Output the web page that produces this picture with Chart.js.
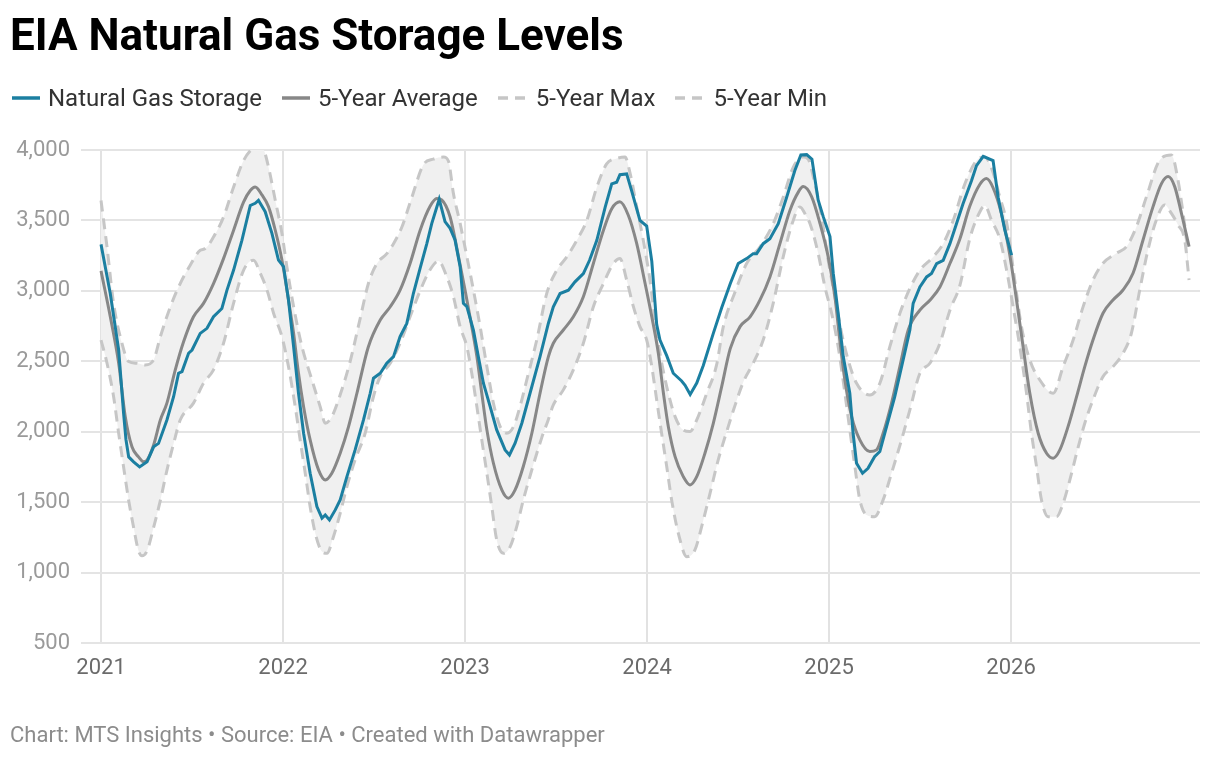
<!DOCTYPE html>
<html>
<head>
<meta charset="utf-8">
<script src="https://cdn.jsdelivr.net/npm/chart.js@4.4.1/dist/chart.umd.min.js"></script>
<style>
  html, body { margin: 0; padding: 0; background: #fff; }
  body { width: 1220px; height: 760px; position: relative; overflow: hidden; font-family: Roboto, sans-serif; }
  #title { position: absolute; left: 10px; top: 9px; font-size: 44px; font-weight: bold; color: #000; white-space: nowrap; }
  #legend { position: absolute; left: 12px; top: 84px; display: flex; align-items: center; font-size: 24px; color: #333; white-space: nowrap; }
  .item { display: flex; align-items: center; margin-right: 20px; }
  .item svg { margin-right: 8px; }
  #footer { position: absolute; left: 10px; top: 722px; font-size: 22px; color: #8c8c8c; white-space: nowrap; }
  #wrap { position: absolute; left: 0; top: 0; width: 1220px; height: 760px; }
</style>
</head>
<body>
<div id="wrap"><canvas id="chart"></canvas></div>
<div id="title">EIA Natural Gas Storage Levels</div>
<div id="legend"></div>
<div id="footer">Chart: MTS Insights • Source: EIA • Created with Datawrapper</div>
<script>
// weekly readings, [decimal year, Bcf]
const storage = [
  [2021.000, 3330], [2021.051, 2980], [2021.097, 2580], [2021.124, 2130], [2021.137, 1945], [2021.152, 1821],
  [2021.179, 1786], [2021.212, 1750], [2021.253, 1786], [2021.289, 1893], [2021.316, 1917], [2021.362, 2083],
  [2021.399, 2250], [2021.426, 2415], [2021.445, 2427], [2021.481, 2557], [2021.500, 2580], [2021.545, 2698],
  [2021.582, 2734], [2021.618, 2816], [2021.664, 2875], [2021.692, 3005], [2021.728, 3146], [2021.774, 3359],
  [2021.820, 3606], [2021.847, 3622], [2021.865, 3643], [2021.902, 3562], [2021.939, 3408], [2021.975, 3219],
  [2022.003, 3172], [2022.030, 2935], [2022.058, 2604], [2022.085, 2273], [2022.113, 1989], [2022.149, 1705],
  [2022.186, 1468], [2022.214, 1386], [2022.232, 1409], [2022.255, 1374], [2022.287, 1445], [2022.314, 1516],
  [2022.351, 1681], [2022.396, 1871], [2022.442, 2084], [2022.479, 2273], [2022.497, 2380], [2022.534, 2415],
  [2022.570, 2486], [2022.607, 2533], [2022.643, 2675], [2022.680, 2769], [2022.716, 2981], [2022.753, 3160],
  [2022.790, 3336], [2022.817, 3477], [2022.858, 3650], [2022.890, 3491], [2022.918, 3444], [2022.945, 3361],
  [2022.973, 3172], [2022.991, 2912], [2023.010, 2888], [2023.046, 2722], [2023.073, 2533], [2023.101, 2344],
  [2023.138, 2178], [2023.174, 2013], [2023.220, 1871], [2023.244, 1835], [2023.275, 1918], [2023.312, 2060],
  [2023.357, 2273], [2023.412, 2533], [2023.458, 2770], [2023.485, 2887], [2023.522, 2981], [2023.568, 3005],
  [2023.604, 3064], [2023.650, 3123], [2023.684, 3217], [2023.724, 3359], [2023.770, 3594], [2023.806, 3759],
  [2023.833, 3771], [2023.851, 3825], [2023.888, 3830], [2023.915, 3712], [2023.961, 3500], [2023.998, 3460],
  [2024.026, 3210], [2024.053, 2760], [2024.071, 2651], [2024.108, 2540], [2024.144, 2415], [2024.190, 2360],
  [2024.209, 2330], [2024.237, 2265], [2024.273, 2345], [2024.309, 2470], [2024.364, 2698], [2024.410, 2880],
  [2024.457, 3050], [2024.501, 3194], [2024.547, 3229], [2024.583, 3264], [2024.602, 3264], [2024.638, 3335],
  [2024.675, 3370], [2024.721, 3477], [2024.767, 3665], [2024.812, 3854], [2024.845, 3965], [2024.877, 3967],
  [2024.906, 3935], [2024.940, 3645], [2024.968, 3527], [2025.005, 3385], [2025.023, 3125], [2025.050, 2841],
  [2025.078, 2533], [2025.114, 2273], [2025.132, 1989], [2025.151, 1776], [2025.184, 1705], [2025.214, 1740],
  [2025.250, 1823], [2025.279, 1859], [2025.316, 2036], [2025.361, 2249], [2025.407, 2509], [2025.444, 2722],
  [2025.462, 2911], [2025.499, 3028], [2025.536, 3099], [2025.563, 3123], [2025.591, 3194], [2025.627, 3217],
  [2025.664, 3335], [2025.700, 3477], [2025.736, 3618], [2025.783, 3783], [2025.810, 3889], [2025.847, 3955],
  [2025.901, 3925], [2025.929, 3665], [2025.966, 3429], [2026.003, 3253]
];

const fiveYearAvg = [
  [2021.000, 3142], [2021.051, 2816], [2021.097, 2486], [2021.133, 2109], [2021.170, 1893], [2021.206, 1821],
  [2021.234, 1786], [2021.253, 1798], [2021.289, 1905], [2021.326, 2083], [2021.362, 2203], [2021.408, 2439],
  [2021.454, 2640], [2021.508, 2816], [2021.563, 2911], [2021.618, 3052], [2021.673, 3229], [2021.728, 3429],
  [2021.783, 3630], [2021.820, 3712], [2021.847, 3738], [2021.884, 3681], [2021.920, 3598], [2021.957, 3432],
  [2021.994, 3219], [2022.030, 2935], [2022.058, 2699], [2022.085, 2415], [2022.113, 2178], [2022.149, 1942],
  [2022.195, 1729], [2022.232, 1658], [2022.268, 1705], [2022.314, 1847], [2022.360, 2036], [2022.406, 2273],
  [2022.468, 2600], [2022.534, 2793], [2022.589, 2887], [2022.643, 3005], [2022.698, 3194], [2022.753, 3429],
  [2022.808, 3600], [2022.845, 3655], [2022.872, 3645], [2022.918, 3524], [2022.964, 3243], [2023.000, 3006],
  [2023.037, 2746], [2023.065, 2533], [2023.092, 2273], [2023.120, 2013], [2023.156, 1776], [2023.202, 1587],
  [2023.238, 1528], [2023.275, 1587], [2023.320, 1753], [2023.367, 1989], [2023.412, 2273], [2023.458, 2533],
  [2023.485, 2628], [2023.540, 2722], [2023.595, 2816], [2023.650, 2958], [2023.705, 3194], [2023.760, 3429],
  [2023.806, 3583], [2023.851, 3632], [2023.897, 3537], [2023.943, 3337], [2023.989, 3054], [2024.026, 2817],
  [2024.062, 2557], [2024.090, 2273], [2024.117, 2036], [2024.154, 1823], [2024.199, 1681], [2024.236, 1622],
  [2024.273, 1681], [2024.318, 1847], [2024.364, 2060], [2024.410, 2320], [2024.457, 2590], [2024.511, 2746],
  [2024.566, 2816], [2024.620, 2934], [2024.675, 3099], [2024.730, 3335], [2024.785, 3571], [2024.831, 3701],
  [2024.858, 3740], [2024.904, 3669], [2024.950, 3479], [2024.995, 3243], [2025.032, 2959], [2025.059, 2651],
  [2025.087, 2367], [2025.124, 2107], [2025.169, 1942], [2025.224, 1859], [2025.261, 1871], [2025.297, 1989],
  [2025.343, 2202], [2025.389, 2462], [2025.435, 2722], [2025.499, 2863], [2025.554, 2934], [2025.609, 3028],
  [2025.664, 3194], [2025.719, 3370], [2025.773, 3600], [2025.828, 3755], [2025.865, 3797], [2025.901, 3732],
  [2025.947, 3548], [2025.993, 3255], [2026.030, 2935], [2026.066, 2604], [2026.103, 2273], [2026.149, 1989],
  [2026.195, 1847], [2026.231, 1812], [2026.268, 1871], [2026.313, 2036], [2026.360, 2249], [2026.405, 2462],
  [2026.450, 2651], [2026.505, 2841], [2026.560, 2935], [2026.615, 3006], [2026.670, 3125], [2026.725, 3361],
  [2026.780, 3598], [2026.827, 3763], [2026.863, 3811], [2026.899, 3740], [2026.936, 3550], [2026.978, 3314]
];

const fiveYearMax = [
  [2021.000, 3641], [2021.033, 3311], [2021.069, 2911], [2021.115, 2628], [2021.152, 2498], [2021.198, 2486],
  [2021.243, 2474], [2021.289, 2510], [2021.326, 2675], [2021.381, 2887], [2021.435, 3052], [2021.490, 3182],
  [2021.545, 3288], [2021.573, 3300], [2021.618, 3382], [2021.673, 3524], [2021.728, 3736], [2021.783, 3925],
  [2021.838, 4019], [2021.865, 4045], [2021.893, 4007], [2021.920, 3880], [2021.957, 3645], [2021.994, 3408],
  [2022.021, 3172], [2022.058, 2888], [2022.104, 2604], [2022.159, 2367], [2022.204, 2178], [2022.232, 2060],
  [2022.268, 2107], [2022.314, 2262], [2022.369, 2500], [2022.424, 2805], [2022.469, 3052], [2022.516, 3194],
  [2022.570, 3264], [2022.607, 3335], [2022.653, 3453], [2022.708, 3665], [2022.771, 3895], [2022.826, 3935],
  [2022.881, 3950], [2022.909, 3920], [2022.936, 3692], [2022.973, 3479], [2023.010, 3243], [2023.046, 3006],
  [2023.083, 2746], [2023.120, 2462], [2023.156, 2202], [2023.193, 2036], [2023.229, 1989], [2023.266, 2036],
  [2023.302, 2178], [2023.339, 2367], [2023.394, 2651], [2023.449, 2982], [2023.504, 3146], [2023.559, 3241],
  [2023.614, 3359], [2023.669, 3500], [2023.724, 3736], [2023.778, 3901], [2023.833, 3940], [2023.879, 3950],
  [2023.906, 3840], [2023.943, 3598], [2023.979, 3361], [2024.016, 3077], [2024.044, 2793], [2024.071, 2557],
  [2024.108, 2320], [2024.154, 2107], [2024.199, 2012], [2024.236, 2001], [2024.273, 2084], [2024.328, 2273],
  [2024.382, 2474], [2024.419, 2746], [2024.483, 2990], [2024.547, 3194], [2024.620, 3311], [2024.693, 3476],
  [2024.748, 3665], [2024.803, 3877], [2024.858, 3950], [2024.885, 3936], [2024.913, 3811], [2024.959, 3527],
  [2024.995, 3219], [2025.032, 2959], [2025.069, 2699], [2025.105, 2509], [2025.151, 2344], [2025.224, 2261],
  [2025.279, 2344], [2025.334, 2604], [2025.389, 2840], [2025.444, 3017], [2025.499, 3146], [2025.572, 3241],
  [2025.627, 3335], [2025.682, 3500], [2025.746, 3759], [2025.810, 3925], [2025.856, 3950], [2025.901, 3840],
  [2025.938, 3665], [2025.975, 3490], [2026.020, 3077], [2026.057, 2746], [2026.103, 2509], [2026.158, 2367],
  [2026.231, 2273], [2026.286, 2462], [2026.341, 2651], [2026.396, 2888], [2026.450, 3077], [2026.505, 3196],
  [2026.579, 3267], [2026.634, 3314], [2026.689, 3456], [2026.744, 3669], [2026.817, 3929], [2026.881, 3965],
  [2026.917, 3787], [2026.945, 3550], [2026.972, 3290]
];

const fiveYearMin = [
  [2021.000, 2651], [2021.033, 2486], [2021.069, 2250], [2021.097, 1988], [2021.124, 1750], [2021.152, 1512],
  [2021.179, 1321], [2021.206, 1155], [2021.225, 1119], [2021.253, 1155], [2021.289, 1321], [2021.326, 1512],
  [2021.362, 1726], [2021.399, 1917], [2021.435, 2083], [2021.508, 2203], [2021.563, 2345], [2021.618, 2439],
  [2021.673, 2628], [2021.728, 2911], [2021.783, 3146], [2021.838, 3218], [2021.875, 3125], [2021.912, 3006],
  [2021.948, 2841], [2021.994, 2675], [2022.030, 2462], [2022.067, 2178], [2022.094, 1942], [2022.122, 1705],
  [2022.149, 1468], [2022.177, 1279], [2022.214, 1149], [2022.241, 1137], [2022.277, 1255], [2022.314, 1421],
  [2022.351, 1610], [2022.396, 1800], [2022.451, 1989], [2022.497, 2250], [2022.534, 2392], [2022.589, 2486],
  [2022.643, 2628], [2022.698, 2816], [2022.753, 3000], [2022.808, 3150], [2022.854, 3212], [2022.900, 3100],
  [2022.936, 2960], [2022.973, 2746], [2023.010, 2604], [2023.037, 2415], [2023.065, 2178], [2023.092, 1942],
  [2023.120, 1705], [2023.147, 1468], [2023.174, 1232], [2023.211, 1137], [2023.248, 1184], [2023.284, 1326],
  [2023.320, 1516], [2023.367, 1729], [2023.422, 1960], [2023.456, 2080], [2023.485, 2190], [2023.540, 2297],
  [2023.595, 2439], [2023.650, 2628], [2023.705, 2887], [2023.760, 3052], [2023.815, 3194], [2023.851, 3230],
  [2023.888, 3077], [2023.925, 2888], [2023.961, 2746], [2023.998, 2651], [2024.026, 2462], [2024.053, 2225],
  [2024.080, 1989], [2024.108, 1753], [2024.135, 1516], [2024.172, 1279], [2024.218, 1113], [2024.263, 1161],
  [2024.300, 1326], [2024.346, 1563], [2024.391, 1800], [2024.446, 2036], [2024.474, 2150], [2024.528, 2350],
  [2024.583, 2486], [2024.638, 2651], [2024.693, 2911], [2024.748, 3241], [2024.803, 3500], [2024.840, 3596],
  [2024.877, 3524], [2024.895, 3479], [2024.940, 3267], [2024.977, 3030], [2025.014, 2841], [2025.050, 2604],
  [2025.087, 2273], [2025.114, 2013], [2025.142, 1752], [2025.169, 1516], [2025.206, 1409], [2025.250, 1397],
  [2025.297, 1516], [2025.343, 1705], [2025.398, 1942], [2025.444, 2155], [2025.499, 2415], [2025.554, 2486],
  [2025.609, 2628], [2025.664, 2863], [2025.719, 3040], [2025.773, 3370], [2025.828, 3560], [2025.856, 3605],
  [2025.893, 3500], [2025.938, 3370], [2025.975, 3150], [2026.011, 2888], [2026.048, 2604], [2026.085, 2273],
  [2026.112, 1989], [2026.140, 1752], [2026.167, 1516], [2026.203, 1397], [2026.250, 1397], [2026.286, 1492],
  [2026.323, 1658], [2026.360, 1847], [2026.405, 2060], [2026.450, 2226], [2026.505, 2391], [2026.560, 2462],
  [2026.615, 2557], [2026.661, 2699], [2026.707, 3006], [2026.752, 3290], [2026.798, 3503], [2026.844, 3610],
  [2026.881, 3550], [2026.917, 3468], [2026.954, 3361], [2026.978, 3077]
];

const yearTicks = [2021, 2022, 2023, 2024, 2025, 2026];
const yTicks = [500, 1000, 1500, 2000, 2500, 3000, 3500, 4000];

const seriesNames = ['Natural Gas Storage', '5-Year Average', '5-Year Max', '5-Year Min'];
const blue = '#1b7fa1';
const avgGray = '#878787';
const dashGray = '#c6c6c6';

function toPoints(rows) {
  return rows.map(r => ({ x: r[0], y: r[1] }));
}

// html legend
const legend = document.getElementById('legend');
const swatches = [
  '<svg width="28" height="8"><line x1="0" y1="4" x2="28" y2="4" stroke="' + blue + '" stroke-width="3.5"/></svg>',
  '<svg width="28" height="8"><line x1="0" y1="4" x2="28" y2="4" stroke="' + avgGray + '" stroke-width="3.5"/></svg>',
  '<svg width="30" height="8"><line x1="0" y1="4" x2="30" y2="4" stroke="' + dashGray + '" stroke-width="3.5" stroke-dasharray="10,7"/></svg>',
  '<svg width="30" height="8"><line x1="0" y1="4" x2="30" y2="4" stroke="' + dashGray + '" stroke-width="3.5" stroke-dasharray="10,7"/></svg>'
];
seriesNames.forEach((name, i) => {
  const el = document.createElement('div');
  el.className = 'item';
  el.innerHTML = swatches[i] + '<span>' + name + '</span>';
  legend.appendChild(el);
});

const ctx = document.getElementById('chart').getContext('2d');
const chart = new Chart(ctx, {
  type: 'line',
  data: {
    datasets: [
      {
        label: seriesNames[0],
        data: toPoints(storage),
        borderColor: blue,
        borderWidth: 3,
        pointRadius: 0,
        tension: 0,
        fill: false
      },
      {
        label: seriesNames[1],
        data: toPoints(fiveYearAvg),
        borderColor: avgGray,
        borderWidth: 3,
        pointRadius: 0,
        cubicInterpolationMode: 'monotone',
        fill: false
      },
      {
        label: seriesNames[2],
        data: toPoints(fiveYearMax),
        borderColor: dashGray,
        borderWidth: 3,
        borderDash: [11, 7],
        pointRadius: 0,
        cubicInterpolationMode: 'monotone',
        fill: false
      },
      {
        label: seriesNames[3],
        data: toPoints(fiveYearMin),
        borderColor: dashGray,
        borderWidth: 3,
        borderDash: [11, 7],
        pointRadius: 0,
        cubicInterpolationMode: 'monotone',
        backgroundColor: '#f0f0f0',
        fill: 2
      }
    ]
  },
  options: {
    responsive: true,
    maintainAspectRatio: false,
    animation: false,
    layout: { padding: { top: 150, right: 20, left: 0, bottom: 0 } },
    plugins: {
      legend: { display: false },
      tooltip: { enabled: false },
      filler: { drawTime: 'beforeDatasetsDraw' }
    },
    scales: {
      x: {
        type: 'linear',
        min: 2020.89,
        max: 2027.038,
        afterBuildTicks: scale => { scale.ticks = yearTicks.map(v => ({ value: v })); },
        afterFit: scale => { scale.height = 117; },
        ticks: {
          color: '#6b6b6b',
          font: { family: 'Roboto', size: 22 },
          padding: 12,
          maxRotation: 0,
          callback: value => String(value)
        },
        grid: { color: '#e2e2e2', lineWidth: 2, drawTicks: false },
        border: { display: false }
      },
      y: {
        min: 500,
        max: 4000,
        afterBuildTicks: scale => { scale.ticks = yTicks.map(v => ({ value: v })); },
        afterFit: scale => { scale.width = 81; },
        ticks: {
          color: '#9a9a9a',
          font: { family: 'Roboto', size: 22 },
          padding: 11,
          callback: value => value.toLocaleString('en-US')
        },
        grid: { color: '#e4e4e4', lineWidth: 2, drawTicks: false },
        border: { display: false }
      }
    }
  }
});
</script>
</body>
</html>
